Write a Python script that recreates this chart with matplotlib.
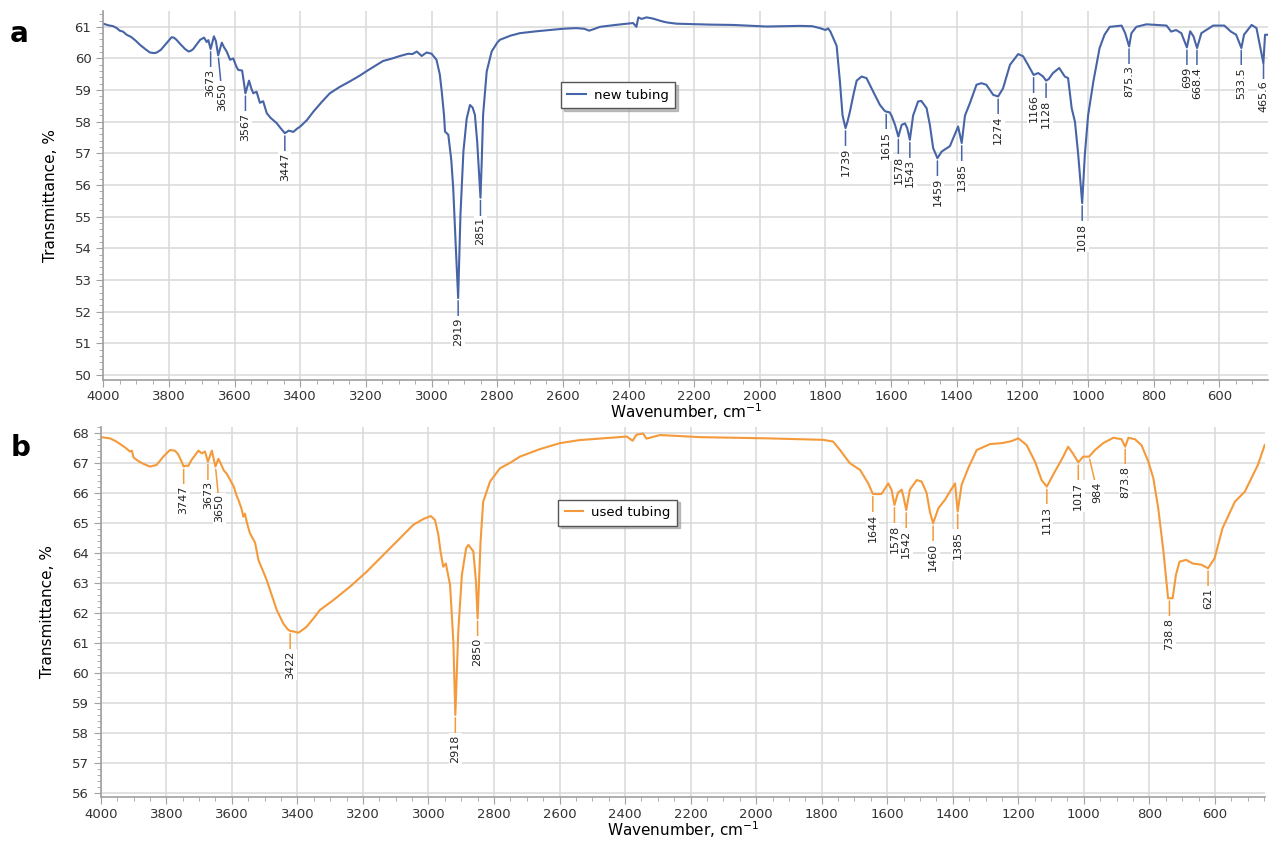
import numpy as np
import matplotlib.pyplot as plt
from matplotlib.ticker import MultipleLocator

# spectrum a: new tubing (wavenumber, transmittance %)
new_wn = [4000, 3985, 3970, 3959, 3950, 3940, 3929, 3915, 3900, 3888, 3870, 3858, 3845, 3837,
          3825, 3810, 3792, 3785, 3778, 3765, 3751, 3740, 3732, 3726, 3715, 3705, 3693, 3685,
          3680, 3673, 3663, 3657, 3650, 3639, 3632, 3624, 3614, 3604, 3595, 3589, 3577, 3567,
          3556, 3549, 3543, 3533, 3523, 3513, 3502, 3490, 3472, 3460, 3447, 3435, 3421, 3410,
          3400, 3380, 3360, 3335, 3310, 3280, 3250, 3220, 3198, 3170, 3148, 3120, 3096, 3071,
          3058, 3045, 3030, 3015, 3000, 2985, 2975, 2969, 2962, 2959, 2949, 2940, 2934, 2926,
          2919, 2912, 2903, 2893, 2883, 2875, 2868, 2861, 2851, 2847, 2843, 2832, 2817, 2800,
          2792, 2760, 2731, 2680, 2640, 2599, 2560, 2535, 2520, 2505, 2487, 2440, 2386, 2376,
          2370, 2360, 2345, 2325, 2300, 2284, 2254, 2150, 2081, 1979, 1878, 1840, 1817, 1800,
          1792, 1785, 1776, 1766, 1756, 1748, 1739, 1733, 1726, 1715, 1705, 1690, 1675, 1655,
          1634, 1620, 1615, 1605, 1599, 1588, 1578, 1568, 1558, 1551, 1543, 1533, 1518, 1508,
          1492, 1482, 1472, 1459, 1446, 1421, 1406, 1396, 1385, 1375, 1360, 1340, 1325, 1310,
          1289, 1274, 1259, 1238, 1213, 1198, 1183, 1166, 1152, 1137, 1128, 1120, 1107, 1088,
          1071, 1061, 1050, 1040, 1030, 1018, 1010, 1000, 984, 965, 950, 934, 898, 887, 875,
          868, 853, 822, 761, 747, 732, 716, 699, 689, 679, 668, 655, 619, 585, 565, 549, 533,
          525, 502, 487, 477, 466, 461, 452]
new_t = [61.10, 61.05, 61.02, 60.96, 60.88, 60.85, 60.75, 60.68, 60.55, 60.43, 60.28, 60.19,
         60.17, 60.19, 60.27, 60.45, 60.67, 60.66, 60.60, 60.45, 60.30, 60.22, 60.25, 60.30,
         60.45, 60.59, 60.66, 60.52, 60.58, 60.30, 60.70, 60.55, 60.10, 60.50, 60.35, 60.22,
         59.96, 60.00, 59.75, 59.64, 59.62, 58.90, 59.30, 59.05, 58.90, 58.95, 58.60, 58.65,
         58.27, 58.12, 57.96, 57.80, 57.64, 57.72, 57.68, 57.78, 57.85, 58.05, 58.32, 58.62,
         58.90, 59.10, 59.27, 59.45, 59.60, 59.78, 59.92, 60.00, 60.08, 60.15, 60.14, 60.22,
         60.08, 60.19, 60.15, 59.96, 59.50, 58.96, 58.20, 57.69, 57.59, 56.80, 55.90, 54.00,
         52.43, 55.06, 57.06, 58.10, 58.53, 58.45, 58.22, 57.37, 55.60, 56.80, 58.22, 59.59,
         60.22, 60.50, 60.59, 60.72, 60.80, 60.86, 60.90, 60.94, 60.96, 60.94, 60.88, 60.93,
         61.00, 61.06, 61.12, 61.00, 61.30, 61.25, 61.30, 61.26, 61.18, 61.14, 61.10, 61.07,
         61.06, 61.01, 61.03, 61.02, 60.96, 60.90, 60.95, 60.85, 60.64, 60.40, 59.27, 58.20,
         57.80, 58.00, 58.30, 58.85, 59.30, 59.43, 59.38, 58.96, 58.53, 58.35, 58.32, 58.30,
         58.20, 57.90, 57.53, 57.90, 57.95, 57.80, 57.43, 58.20, 58.64, 58.66, 58.43, 57.90,
         57.17, 56.85, 57.06, 57.23, 57.60, 57.85, 57.33, 58.20, 58.59, 59.17, 59.22, 59.17,
         58.85, 58.80, 59.06, 59.80, 60.14, 60.07, 59.80, 59.48, 59.54, 59.43, 59.30, 59.35,
         59.54, 59.70, 59.43, 59.38, 58.43, 58.00, 56.95, 55.43, 56.95, 58.20, 59.27, 60.33,
         60.75, 61.00, 61.04, 60.80, 60.38, 60.80, 61.00, 61.08, 61.04, 60.85, 60.90, 60.80,
         60.35, 60.86, 60.70, 60.33, 60.80, 61.04, 61.04, 60.85, 60.75, 60.33, 60.75, 61.06,
         60.96, 60.43, 59.85, 60.75, 60.75]
new_peaks = ['3673', '3650', '3567', '3447', '2919', '2851', '1739', '1615', '1578', '1543',
             '1459', '1385', '1274', '1166', '1128', '1018', '875.3', '699', '668.4', '533.5',
             '465.6']

# spectrum b: used tubing
used_wn = [4000, 3972, 3955, 3941, 3925, 3911, 3905, 3900, 3885, 3870, 3850, 3830, 3809, 3789,
           3774, 3765, 3759, 3747, 3740, 3733, 3723, 3712, 3702, 3692, 3682, 3673, 3661, 3655,
           3650, 3641, 3633, 3625, 3615, 3605, 3594, 3587, 3580, 3570, 3565, 3560, 3555, 3545,
           3535, 3529, 3519, 3494, 3463, 3450, 3443, 3430, 3422, 3410, 3397, 3385, 3372, 3350,
           3331, 3290, 3239, 3188, 3138, 3087, 3046, 3016, 2993, 2980, 2970, 2963, 2955, 2947,
           2934, 2924, 2918, 2909, 2898, 2885, 2878, 2863, 2855, 2850, 2841, 2833, 2812, 2782,
           2750, 2721, 2660, 2599, 2540, 2466, 2395, 2377, 2365, 2345, 2335, 2293, 2171, 1968,
           1805, 1795, 1765, 1744, 1714, 1683, 1658, 1644, 1630, 1617, 1597, 1587, 1578, 1567,
           1556, 1549, 1542, 1531, 1510, 1495, 1480, 1470, 1460, 1444, 1424, 1404, 1393, 1385,
           1373, 1353, 1327, 1286, 1250, 1220, 1200, 1175, 1149, 1129, 1113, 1094, 1063, 1048,
           1033, 1017, 1002, 984, 966, 941, 910, 885, 874, 864, 844, 824, 803, 788, 773, 757,
           743, 729, 719, 708, 688, 668, 642, 621, 601, 577, 539, 509, 484, 469, 448]
used_t = [67.85, 67.81, 67.72, 67.62, 67.50, 67.37, 67.40, 67.17, 67.05, 66.96, 66.87, 66.92,
          67.20, 67.42, 67.40, 67.30, 67.17, 66.87, 66.90, 66.89, 67.09, 67.25, 67.40, 67.31,
          67.37, 67.03, 67.40, 67.10, 66.87, 67.13, 66.95, 66.75, 66.62, 66.42, 66.20, 65.95,
          65.76, 65.45, 65.20, 65.30, 65.04, 64.65, 64.45, 64.33, 63.76, 63.10, 62.09, 61.80,
          61.64, 61.45, 61.39, 61.37, 61.33, 61.42, 61.53, 61.82, 62.09, 62.42, 62.87, 63.37,
          63.92, 64.48, 64.93, 65.12, 65.22, 65.09, 64.60, 64.03, 63.53, 63.64, 62.92, 61.03,
          58.59, 61.37, 63.26, 64.15, 64.26, 64.04, 63.03, 61.81, 64.37, 65.70, 66.37, 66.81,
          67.00, 67.20, 67.45, 67.65, 67.75, 67.81, 67.87, 67.73, 67.93, 67.97, 67.80, 67.92,
          67.85, 67.81, 67.76, 67.76, 67.70, 67.42, 66.98, 66.76, 66.31, 65.96, 65.95, 65.96,
          66.31, 66.10, 65.59, 66.00, 66.10, 65.80, 65.42, 66.10, 66.42, 66.37, 66.00, 65.37,
          64.98, 65.48, 65.76, 66.12, 66.31, 65.37, 66.26, 66.81, 67.42, 67.62, 67.65, 67.72,
          67.81, 67.59, 67.03, 66.42, 66.20, 66.59, 67.20, 67.53, 67.30, 67.01, 67.20, 67.20,
          67.42, 67.65, 67.83, 67.78, 67.53, 67.83, 67.78, 67.58, 67.03, 66.48, 65.48, 64.03,
          62.48, 62.48, 63.26, 63.70, 63.76, 63.64, 63.60, 63.48, 63.81, 64.81, 65.70, 66.03,
          66.59, 66.92, 67.59]
used_peaks = ['3747', '3673', '3650', '3422', '2918', '2850', '1644', '1578', '1542', '1460',
              '1385', '1113', '1017', '984', '873.8', '738.8', '621']

BLUE = '#4664a6'
ORANGE = '#f49a3b'

# small shifts (points) for labels that would collide
label_shift = {'3650': (3, -6), '984': (6, -4)}

fig = plt.figure(figsize=(12.69, 8.41), dpi=100)
ax_a = fig.add_axes([0.0814, 0.5485, 0.9178, 0.4384])
ax_b = fig.add_axes([0.0794, 0.0521, 0.9175, 0.4406])


def draw(ax, wn, t, peaks, color, name, ylim, xright, legend_pos):
    ax.plot(wn, t, color=color, lw=1.5, label=name)
    ax.set_xlim(4000, xright)
    ax.set_ylim(*ylim)
    ax.xaxis.set_major_locator(MultipleLocator(200))
    ax.xaxis.set_minor_locator(MultipleLocator(50))
    ax.yaxis.set_major_locator(MultipleLocator(1))
    ax.yaxis.set_minor_locator(MultipleLocator(0.2))
    ax.grid(which='major', color='#d9d9d9', lw=1.1)
    ax.set_axisbelow(True)
    for s in ['top', 'right']:
        ax.spines[s].set_visible(False)
    for s in ['left', 'bottom']:
        ax.spines[s].set_color('#a0a0a0')
        ax.spines[s].set_linewidth(1.2)
    ax.tick_params(which='major', length=5, color='#a0a0a0', labelsize=9.5,
                   labelcolor='#333333')
    ax.tick_params(axis='x', which='major', pad=2.5)
    ax.tick_params(which='minor', length=3, color='#a0a0a0')
    ax.set_ylabel('Transmittance, %', fontsize=11, labelpad=12)
    ax.set_xlabel('Wavenumber, cm$^{-1}$', fontsize=11, labelpad=-1)

    xs = np.array(wn[::-1], dtype=float)
    ys = np.array(t[::-1], dtype=float)
    for p in peaks:
        x = float(p)
        y = np.interp(x, xs, ys)
        dx, dy = label_shift.get(p, (0, 0))
        ax.annotate(p, xy=(x, y), xytext=(dx, -14 + dy), textcoords='offset points',
                    rotation=90, ha='center', va='top', fontsize=8, color='#222222',
                    bbox=dict(boxstyle='square,pad=0.15', fc='white', ec='none'),
                    arrowprops=dict(arrowstyle='-', color=color, lw=1.1,
                                    shrinkA=0, shrinkB=2))

    leg = ax.legend(loc='center', bbox_to_anchor=legend_pos, fontsize=9.5,
                    fancybox=False, shadow={'color': '#999999', 'alpha': 0.6},
                    handlelength=1.4, borderpad=0.5, handletextpad=0.6)
    leg.get_frame().set_edgecolor('#555555')
    leg.get_frame().set_linewidth(1.0)


draw(ax_a, new_wn, new_t, new_peaks, BLUE, 'new tubing', (49.85, 61.5), 452, (0.442, 0.772))
draw(ax_b, used_wn, used_t, used_peaks, ORANGE, 'used tubing', (55.85, 68.2), 447, (0.444, 0.768))

fig.text(0.008, 1 - 34 / 841, 'a', fontsize=20, fontweight='bold', va='center')
fig.text(0.008, 1 - 448 / 841, 'b', fontsize=20, fontweight='bold', va='center')

plt.savefig('out.png', dpi=100)
